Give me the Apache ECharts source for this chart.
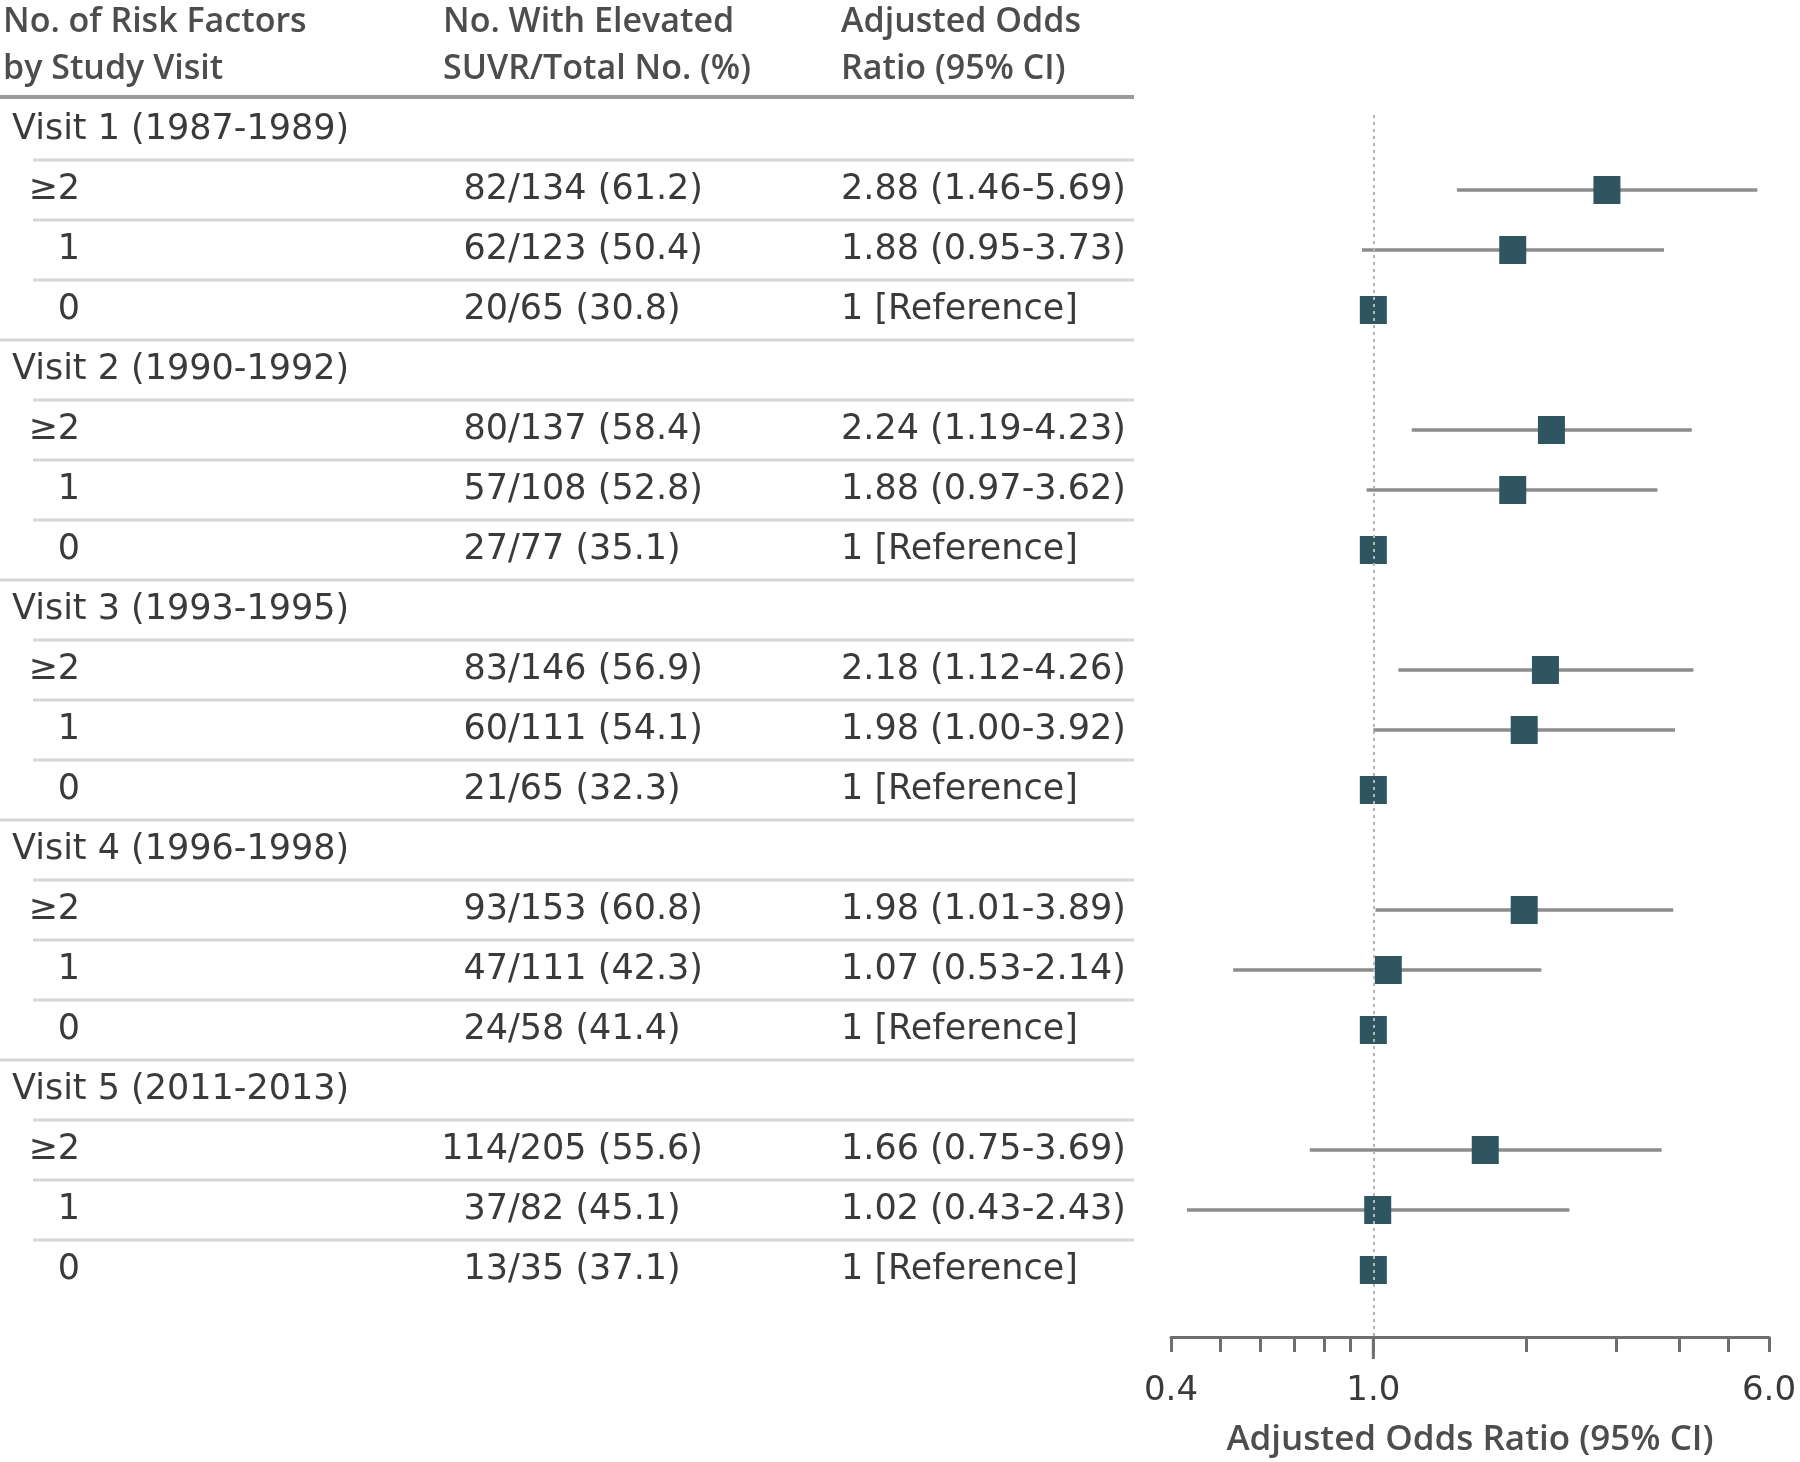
<!DOCTYPE html>
<html><head><meta charset="utf-8">
<script src="https://cdn.jsdelivr.net/npm/echarts@6/dist/echarts.min.js"></script>
<style>html,body{margin:0;padding:0;background:#fff}#c{width:1800px;height:1462px}</style>
</head><body><div id="c"></div>
<script>
// ---------- data ----------
const visits = ['Visit 1 (1987-1989)', 'Visit 2 (1990-1992)', 'Visit 3 (1993-1995)', 'Visit 4 (1996-1998)', 'Visit 5 (2011-2013)'];
const groups = ['≥2', '1', '0'];
const nElevated = [82, 62, 20, 80, 57, 27, 83, 60, 21, 93, 47, 24, 114, 37, 13];
const nTotal = [134, 123, 65, 137, 108, 77, 146, 111, 65, 153, 111, 58, 205, 82, 35];
const pctElevated = [61.2, 50.4, 30.8, 58.4, 52.8, 35.1, 56.9, 54.1, 32.3, 60.8, 42.3, 41.4, 55.6, 45.1, 37.1];
const oddsRatio = [2.88, 1.88, 1, 2.24, 1.88, 1, 2.18, 1.98, 1, 1.98, 1.07, 1, 1.66, 1.02, 1];
const ciLow = [1.46, 0.95, null, 1.19, 0.97, null, 1.12, 1.00, null, 1.01, 0.53, null, 0.75, 0.43, null];
const ciHigh = [5.69, 3.73, null, 4.23, 3.62, null, 4.26, 3.92, null, 3.89, 2.14, null, 3.69, 2.43, null];
const xTicks = [0.4, 0.5, 0.6, 0.7, 0.8, 0.9, 1, 2, 3, 4, 5, 6];
const xLabels = [0.4, 1, 6];
const referenceValue = 1;
const headers = [['No. of Risk Factors', 'by Study Visit'], ['No. With Elevated', 'SUVR/Total No. (%)'], ['Adjusted Odds', 'Ratio (95% CI)']];
const axisTitle = 'Adjusted Odds Ratio (95% CI)';
const referenceText = '1 [Reference]';

// ---------- layout / style ----------
const BODY_FONT = '"DejaVu Sans", sans-serif';
const HEAD_FONT = '"Open Sans", "Noto Sans", sans-serif';
const TEXT_COLOR = '#3a3a3a';
const HEAD_COLOR = '#4d4d4d';
const COL = { visit: 12, group: 80, slash: 508, or: 841, lineIndent: 33, tableEnd: 1134 };
const HEAD_X = [3, 443, 841];
const HEAD_Y = [20, 67];
const Y_MIN = -0.25, Y_MAX = 20.1167;
const axisColor = '#6e6e6e';

// build row structure (table rows index top -> bottom)
const tableData = [];
const forestCI = [];
const forestPoints = [];
visits.forEach((v, vi) => {
  tableData.push([0, vi * 4, -1, vi]);
  groups.forEach((g, gi) => {
    const k = vi * 3 + gi;
    const r = vi * 4 + gi + 1;
    tableData.push([0, r, k, gi]);
    if (ciLow[k] != null) forestCI.push([ciLow[k], ciHigh[k], r]);
    forestPoints.push([oddsRatio[k], r]);
  });
});
const NROWS = visits.length * 4;

function orText(k) {
  if (ciLow[k] == null) return referenceText;
  return oddsRatio[k].toFixed(2) + ' (' + ciLow[k].toFixed(2) + '-' + ciHigh[k].toFixed(2) + ')';
}

function txt(text, x, y, align, font, fill) {
  return { type: 'text', style: { text: text, x: x, y: y, align: align, textAlign: align, verticalAlign: 'middle', textVerticalAlign: 'middle', font: font, fill: fill } };
}

const bodyFont = '35px ' + BODY_FONT;

function renderTable(params, api) {
  const r = api.value(1);
  const k = api.value(2);
  const sub = api.value(3);
  const y = api.coord([0, r])[1];
  const X = v => api.coord([v, r])[0];
  const children = [];
  if (k < 0) {
    children.push(txt(visits[sub], X(COL.visit), y, 'left', bodyFont, TEXT_COLOR));
  } else {
    children.push(txt(groups[sub], X(COL.group), y, 'right', bodyFont, TEXT_COLOR));
    children.push(txt(String(nElevated[k]), X(COL.slash), y, 'right', bodyFont, TEXT_COLOR));
    children.push(txt('/' + nTotal[k] + ' (' + pctElevated[k].toFixed(1) + ')', X(COL.slash), y, 'left', bodyFont, TEXT_COLOR));
    children.push(txt(orText(k), X(COL.or), y, 'left', bodyFont, TEXT_COLOR));
  }
  if (r < NROWS - 1) {
    const yl = api.coord([0, r + 0.5])[1];
    const last = (k >= 0 && sub === groups.length - 1);
    children.push({ type: 'line', shape: { x1: X(last ? 0 : COL.lineIndent), y1: yl, x2: X(COL.tableEnd), y2: yl }, style: { stroke: '#d6d6d6', lineWidth: 3 } });
  }
  if (r === 0) {
    const yh = api.coord([0, r - 0.55])[1];
    children.push({ type: 'line', shape: { x1: X(0), y1: yh, x2: X(COL.tableEnd), y2: yh }, style: { stroke: '#9a9a9a', lineWidth: 4 } });
  }
  return { type: 'group', children: children };
}

function renderCI(params, api) {
  const p1 = api.coord([api.value(0), api.value(2)]);
  const p2 = api.coord([api.value(1), api.value(2)]);
  return { type: 'line', shape: { x1: p1[0], y1: p1[1], x2: p2[0], y2: p2[1] }, style: { stroke: '#8c8c8c', lineWidth: 3.5 } };
}

// longer tick under the reference value on the x axis
function renderRefTick(params, api) {
  const p = api.coord([api.value(0), Y_MAX]);
  return { type: 'line', shape: { x1: p[0], y1: p[1], x2: p[0], y2: p[1] + 22 }, style: { stroke: axisColor, lineWidth: 3 } };
}

const yCommon = { type: 'value', inverse: true, min: Y_MIN, max: Y_MAX, show: false };
const gridCommon = { top: 115, bottom: 125, containLabel: false, outerBoundsMode: 'none' };

const graphicEls = [];
headers.forEach((h, i) => h.forEach((line, j) => {
  graphicEls.push({ type: 'text', left: HEAD_X[i], top: HEAD_Y[j] - 15, style: { text: line, font: '600 34px ' + HEAD_FONT, fill: HEAD_COLOR } });
}));

const chart = echarts.init(document.getElementById('c'), null, { renderer: 'canvas' });
chart.setOption({
  backgroundColor: '#ffffff',
  animation: false,
  grid: [
    Object.assign({ left: 0, width: COL.tableEnd }, gridCommon),
    Object.assign({ left: 1171, width: 598 }, gridCommon)
  ],
  xAxis: [
    { gridIndex: 0, type: 'value', min: 0, max: COL.tableEnd, show: false },
    {
      gridIndex: 1, type: 'log', logBase: 10, min: 0.4, max: 6, position: 'bottom',
      axisLine: { show: true, onZero: false, lineStyle: { color: axisColor, width: 3 } },
      axisTick: { show: true, customValues: xTicks, length: 15, lineStyle: { color: axisColor, width: 3 } },
      axisLabel: { show: true, customValues: xLabels, formatter: v => Number(v).toFixed(1), margin: 37, fontSize: 34, fontFamily: BODY_FONT, color: TEXT_COLOR },
      splitLine: { show: false }, minorTick: { show: false },
      name: axisTitle, nameLocation: 'middle', nameGap: 86,
      nameTextStyle: { fontSize: 35, fontWeight: 600, fontFamily: HEAD_FONT, color: HEAD_COLOR }
    }
  ],
  yAxis: [
    Object.assign({ gridIndex: 0 }, yCommon),
    Object.assign({ gridIndex: 1 }, yCommon)
  ],
  graphic: graphicEls,
  series: [
    {
      type: 'custom', xAxisIndex: 0, yAxisIndex: 0, clip: false, silent: true,
      renderItem: renderTable, data: tableData, encode: { x: 0, y: 1 }
    },
    {
      type: 'line', xAxisIndex: 1, yAxisIndex: 1, data: [], z: 1, silent: true,
      markLine: { silent: true, symbol: ['none', 'none'], label: { show: false }, animation: false,
        lineStyle: { color: '#b5b5b5', type: [3, 4], width: 2 }, data: [{ xAxis: referenceValue }] }
    },
    {
      type: 'custom', xAxisIndex: 1, yAxisIndex: 1, clip: false, silent: true, z: 2,
      renderItem: renderRefTick, data: [[referenceValue]], encode: { x: 0 }
    },
    {
      type: 'custom', xAxisIndex: 1, yAxisIndex: 1, z: 2, silent: true,
      renderItem: renderCI, data: forestCI, encode: { x: [0, 1], y: 2 }
    },
    {
      type: 'scatter', xAxisIndex: 1, yAxisIndex: 1, z: 3, silent: true,
      symbol: 'rect', symbolSize: [27, 28], itemStyle: { color: '#2f5560', opacity: 1 },
      data: forestPoints
    }
  ]
});
</script>
</body></html>
